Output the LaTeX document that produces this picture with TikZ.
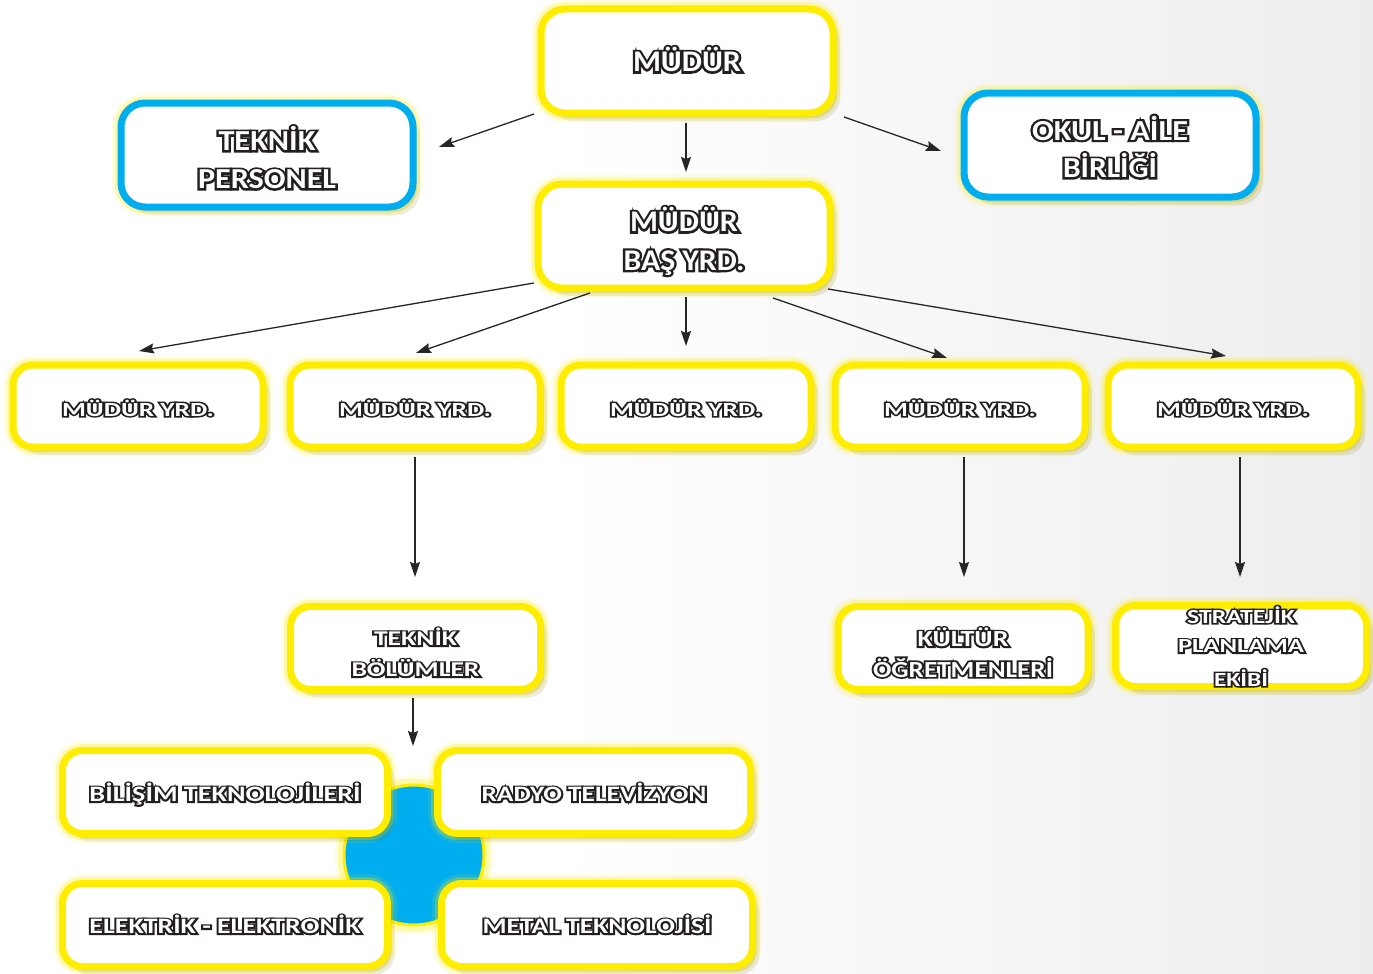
\documentclass[tikz,border=0pt]{standalone}
\usepackage{fontspec}
\setmainfont{Carlito}
\usepackage{graphicx}
\usetikzlibrary{arrows.meta,shadows}
\definecolor{yel}{RGB}{255,237,0}
\definecolor{blu}{RGB}{0,174,239}
\definecolor{outl}{RGB}{35,31,32}
% outlined label: dark emboldened copy behind, white copy in front, stretched to a width
\DeclareRobustCommand\hsq[2]{\resizebox{#1pt}{\height}{#2}}
\newcommand\tl[2]{\hsq{#1}{\rlap{\color{outl}\addfontfeature{FakeBold=15}#2}#2}}
% one line of a label: baseline #1 px below the node centre, width #2
\newcommand\lbline[3]{\makebox[0pt]{\raisebox{-#1pt}[0pt][0pt]{\tl{#2}{#3}}}}
\tikzset{
  glow/.style={preaction={draw=yel, line width=19pt, draw opacity=0.10},
               preaction={draw=yel, line width=13pt, draw opacity=0.25}},
  shad/.style={drop shadow={shadow xshift=7pt, shadow yshift=-8pt, opacity=0.08, fill=black},
               drop shadow={shadow xshift=4pt, shadow yshift=-5pt, opacity=0.10, fill=black}},
  ybox/.style={rectangle, rounded corners=24pt, draw=yel, line width=7pt, fill=white,
               inner sep=0pt, text=white, shad, glow},
  bbox/.style={ybox, draw=blu},
  big/.style={minimum width=292pt, minimum height=104pt, font=\fontsize{30}{38}\selectfont\bfseries},
  yrd/.style={minimum width=250pt, minimum height=82pt, rounded corners=20pt,
              font=\fontsize{20}{24}\selectfont\bfseries},
  mid/.style={minimum width=250pt, minimum height=83pt, rounded corners=20pt,
              font=\fontsize{21}{30}\selectfont\bfseries},
  dep/.style={minimum height=83pt, rounded corners=20pt, font=\fontsize{22}{26}\selectfont\bfseries},
  arr/.style={draw=black!85, line width=1.3pt, -{Stealth[length=15pt, width=10pt, inset=2pt]}}
}
\begin{document}
\begin{tikzpicture}[x=1pt, y=-1pt]
\useasboundingbox (0,0) rectangle (1373,974);
\fill[white] (0,0) rectangle (1373,974);
\shade[left color=white, right color=black!7] (560,0) rectangle (1373,974);

% hub circle behind the department boxes
\node[circle, minimum size=140pt, inner sep=0pt, fill=blu, draw=yel, line width=3pt, glow] (hub) at (414,855) {};

% top levels
\node[ybox, big] (mudur) at (687,61) {\lbline{10.5}{108}{MÜDÜR}};
\node[ybox, big] (bas) at (684,236) {\lbline{-4.5}{108}{MÜDÜR}\lbline{34}{121}{BAŞ YRD.}};
\node[bbox, big, font=\fontsize{29}{38}\selectfont\bfseries] (tp) at (267,155) {\lbline{-4.5}{97}{TEKNİK}\lbline{33.5}{138}{PERSONEL}};
\node[bbox, big, font=\fontsize{29}{38}\selectfont\bfseries] (okul) at (1110,145) {\lbline{-5}{156}{OKUL - AİLE}\lbline{32.5}{94}{BİRLİĞİ}};

% assistant principals
\node[ybox, yrd] (yrd1) at (138,406) {\lbline{10}{152}{MÜDÜR YRD.}};
\node[ybox, yrd] (yrd2) at (415,406) {\lbline{10}{152}{MÜDÜR YRD.}};
\node[ybox, yrd] (yrd3) at (686,406) {\lbline{10}{152}{MÜDÜR YRD.}};
\node[ybox, yrd] (yrd4) at (960,406) {\lbline{10}{152}{MÜDÜR YRD.}};
\node[ybox, yrd] (yrd5) at (1233,406) {\lbline{10}{152}{MÜDÜR YRD.}};

% third level
\node[ybox, mid] (tb) at (415.5,648) {\lbline{-2.5}{83}{TEKNİK}\lbline{28.5}{128}{BÖLÜMLER}};
\node[ybox, mid, font=\fontsize{23}{30}\selectfont\bfseries] (kultur) at (963,648) {\lbline{-1.5}{91}{KÜLTÜR}\lbline{29}{180}{ÖĞRETMENLERİ}};
\node[ybox, mid, minimum width=251pt, minimum height=81pt, font=\fontsize{20}{30}\selectfont\bfseries] (strat) at (1241,646)
  {\lbline{-23}{108}{STRATEJİK}\lbline{6.5}{126}{PLANLAMA}\lbline{40}{54}{EKİBİ}};

% departments
\node[ybox, dep, minimum width=325pt] (bilisim) at (225,792) {\lbline{9.5}{271}{BİLİŞİM TEKNOLOJİLERİ}};
\node[ybox, dep, minimum width=313pt] (radyo) at (594,792) {\lbline{9.5}{225}{RADYO TELEVİZYON}};
\node[ybox, dep, minimum width=325pt] (elektrik) at (225,925) {\lbline{8.5}{271}{ELEKTRİK - ELEKTRONİK}};
\node[ybox, dep, minimum width=311pt] (metal) at (597,925) {\lbline{8.5}{229}{METAL TEKNOLOJİSİ}};

% connectors
\draw[arr] ([shift={(-3.5,-2.5)}]mudur.south west) -- ([shift={(22.5,-8)}]tp.east);
\draw[arr] ([shift={(7.5,0.5)}]mudur.south east) -- ([shift={(-19.5,6)}]okul.west);
\draw[arr] ([shift={(-1,6.5)}]mudur.south) -- ([shift={(2,-8.5)}]bas.north);
\draw[arr] ([shift={(-0.5,-8.5)}]bas.south west) -- ([shift={(1,-10.5)}]yrd1.north);
\draw[arr] ([shift={(-94,1.5)}]bas.south) -- ([shift={(1,-8.5)}]yrd2.north);
\draw[arr] ([shift={(2,5.5)}]bas.south) -- ([shift={(0,-15.5)}]yrd3.north);
\draw[arr] ([shift={(89,6.5)}]bas.south) -- ([shift={(-13,-3.5)}]yrd4.north);
\draw[arr] ([shift={(-5.5,-2.5)}]bas.south east) -- ([shift={(-7,-5.5)}]yrd5.north);
\draw[arr] ([shift={(0,6.5)}]yrd2.south) -- ([shift={(-0.5,-26)}]tb.north);
\draw[arr] ([shift={(4,6.5)}]yrd4.south) -- ([shift={(1,-26)}]kultur.north);
\draw[arr] ([shift={(7,6.5)}]yrd5.south) -- ([shift={(-1,-25)}]strat.north);
\draw[arr] ([shift={(-2.5,5)}]tb.south) -- ([shift={(-1,-37.5)}]hub.north);
\end{tikzpicture}
\end{document}
